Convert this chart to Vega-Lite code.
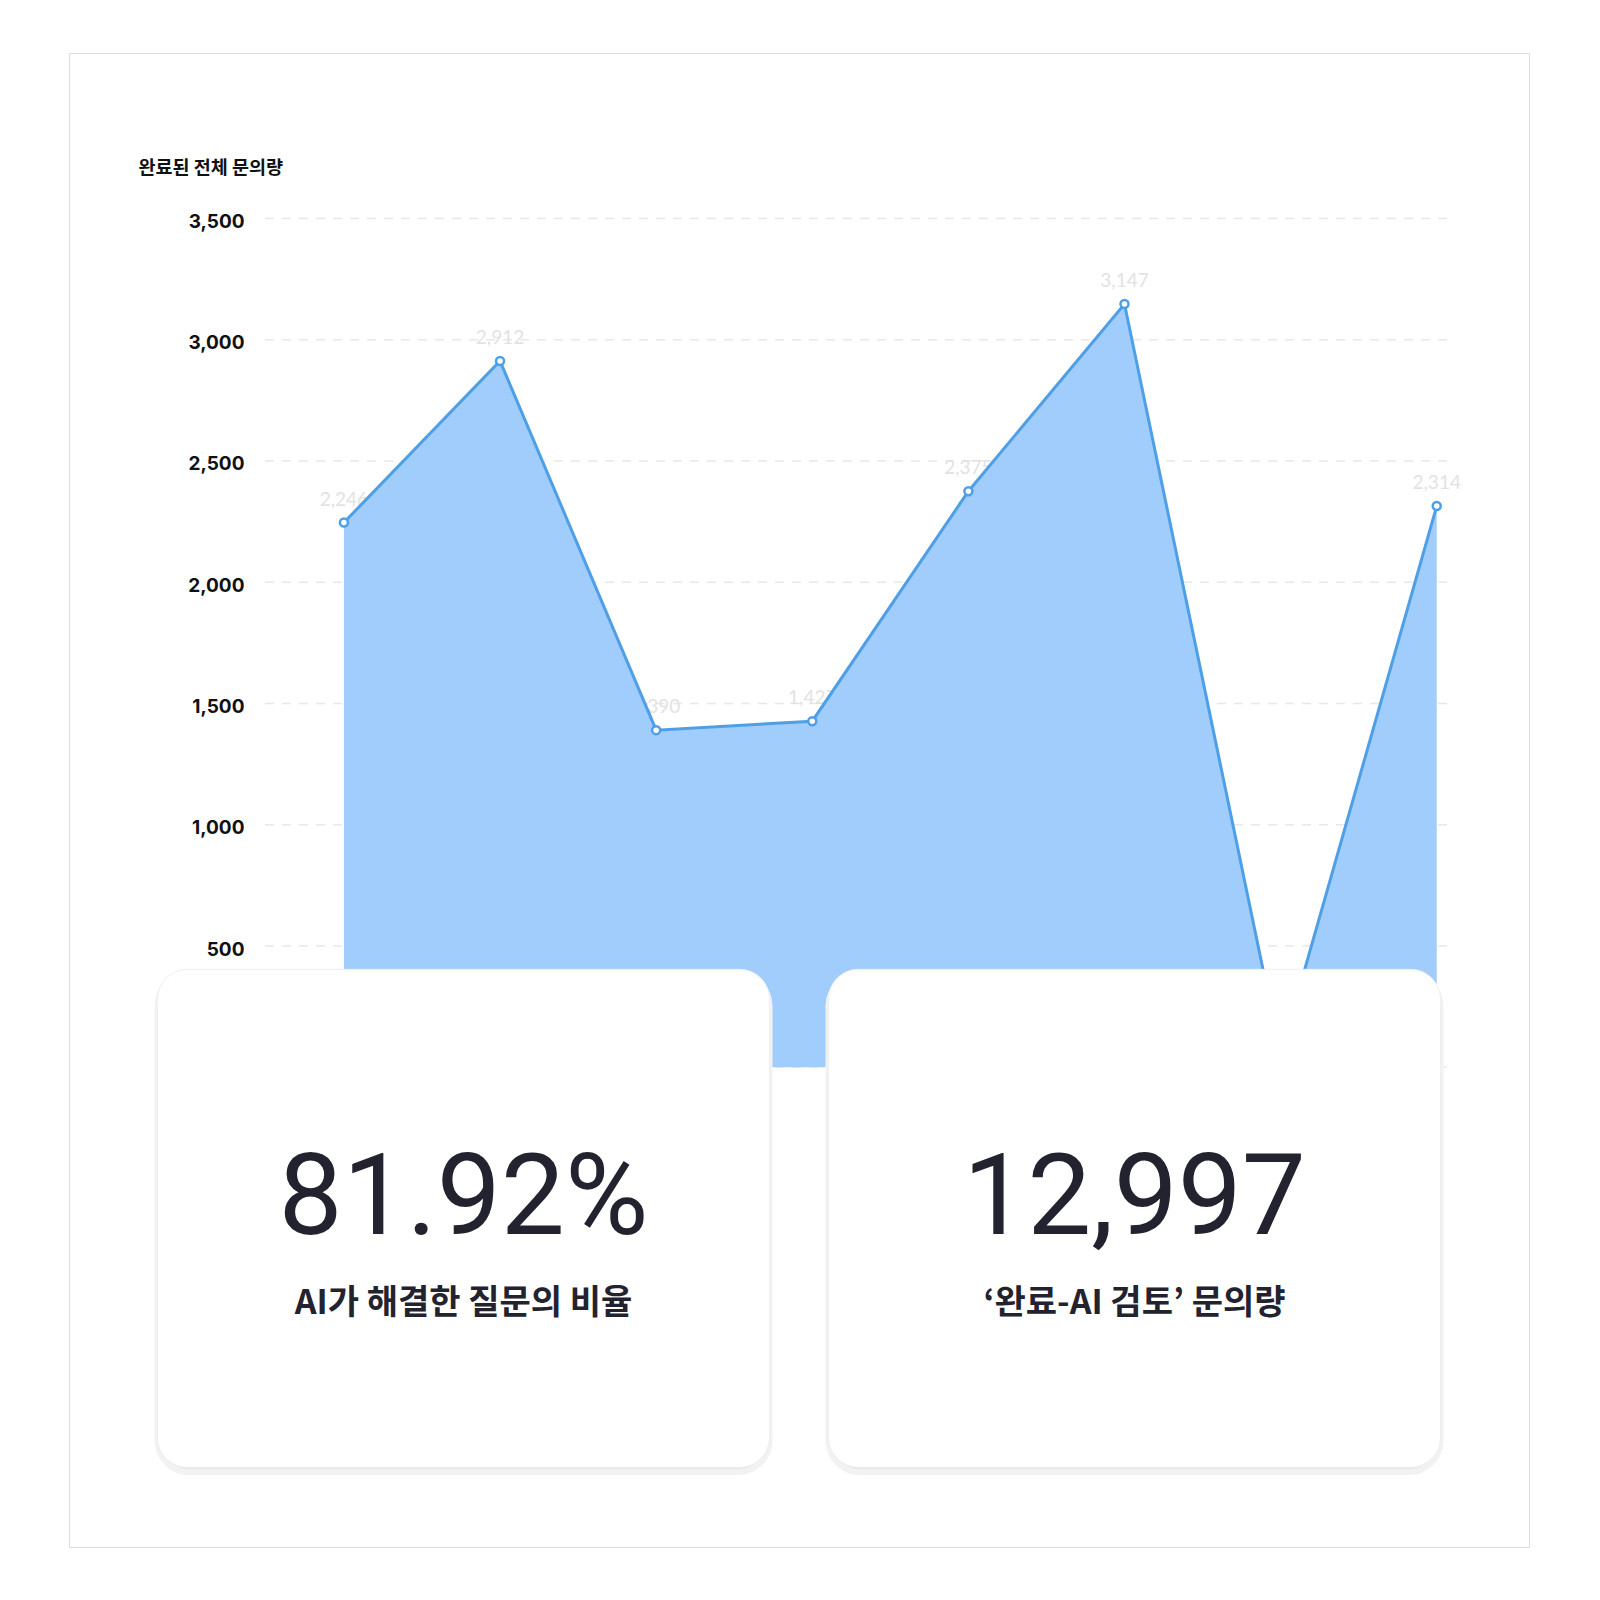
{
  "$schema": "https://vega.github.io/schema/vega-lite/v6.json",
  "width": 1600,
  "height": 1600,
  "autosize": {"type": "fit", "contains": "padding"},
  "padding": {"left": 69, "top": 53, "right": 71, "bottom": 53},
  "background": "#ffffff",
  "layer": [
    {
      "data": {
        "values": [
          {"seq": 1, "count": 2246},
          {"seq": 2, "count": 2912},
          {"seq": 3, "count": 1390},
          {"seq": 4, "count": 1427},
          {"seq": 5, "count": 2375},
          {"seq": 6, "count": 3147},
          {"seq": 7, "count": 55},
          {"seq": 8, "count": 2314}
        ]
      },
      "layer": [
        {
          "data": {"values": [
            {"tick": 0}, {"tick": 500}, {"tick": 1000}, {"tick": 1500},
            {"tick": 2000}, {"tick": 2500}, {"tick": 3000}, {"tick": 3500}
          ]},
          "mark": {"type": "rule", "color": "#e8e8eb", "strokeWidth": 1.5, "strokeDash": [9, 8]},
          "encoding": {
            "y": {"field": "tick", "type": "quantitative"},
            "x": {"datum": 0.4945, "type": "quantitative", "axis": null},
            "x2": {"datum": 8.079}
          }
        },
        {
          "mark": {"type": "text", "font": "Lato", "fontSize": 19, "color": "#e2e2e4", "dy": -23, "baseline": "middle"},
          "encoding": {
            "x": {"field": "seq", "type": "quantitative", "axis": null},
            "y": {"field": "count", "type": "quantitative"},
            "text": {"field": "count", "type": "quantitative", "format": ","}
          }
        },
        {
          "mark": {"type": "area", "color": "#a0cdfb"},
          "encoding": {
            "x": {"field": "seq", "type": "quantitative", "axis": null,
                  "scale": {"domain": [-0.761, 8.591], "nice": false}},
            "y": {"field": "count", "type": "quantitative",
                  "scale": {"domain": [-1978, 4182], "nice": false},
                  "axis": {
                    "values": [0, 500, 1000, 1500, 2000, 2500, 3000, 3500],
                    "format": ",.0f",
                    "offset": -175,
                    "domain": false, "ticks": false, "grid": false,
                    "labelPadding": 0, "labelOffset": 3,
                    "labelFont": "Inter", "labelFontWeight": 700, "labelFontSize": 19, "labelColor": "#111111",
                    "title": "완료된 전체 문의량",
                    "titleAngle": 0, "titleAlign": "left", "titleBaseline": "middle",
                    "titleX": -106, "titleY": 114,
                    "titleFont": "Noto Sans CJK KR", "titleFontWeight": 700, "titleFontSize": 18.5, "titleColor": "#111111"
                  }}
          }
        },
        {
          "mark": {"type": "line", "color": "#4f9fe6", "strokeWidth": 3},
          "encoding": {
            "x": {"field": "seq", "type": "quantitative", "axis": null},
            "y": {"field": "count", "type": "quantitative"}
          }
        },
        {
          "mark": {"type": "point", "shape": "circle", "filled": true, "fill": "#ffffff", "stroke": "#4f9fe6", "strokeWidth": 2.5, "size": 64, "opacity": 1},
          "encoding": {
            "x": {"field": "seq", "type": "quantitative", "axis": null},
            "y": {"field": "count", "type": "quantitative"}
          }
        }
      ]
    },
    {
      "data": {
        "values": [
          {"card": "ai_ratio", "panel": "summary", "value": "81.92%", "label": "AI가 해결한 질문의 비율"},
          {"card": "ai_review", "panel": "summary", "value": "12,997", "label": "‘완료-AI 검토’ 문의량"}
        ]
      },
      "encoding": {
        "x": {"field": "card", "type": "nominal", "axis": null,
              "scale": {"type": "band", "domain": ["ai_ratio", "ai_review"], "paddingInner": 0.0879, "paddingOuter": 0.1319}},
        "y": {"field": "panel", "type": "nominal", "axis": null,
              "scale": {"type": "band", "domain": ["summary"], "paddingInner": 0, "paddingOuter": 1.7774, "align": 0.92}}
      },
      "layer": [
        {
          "mark": {"type": "rect", "fill": "#e6e6e6", "stroke": "#f2f2f2", "strokeWidth": 6, "cornerRadius": 32, "yOffset": 5},
          "encoding": {}
        },
        {
          "mark": {"type": "rect", "fill": "#ffffff", "stroke": "#efefef", "strokeWidth": 1, "cornerRadius": 30},
          "encoding": {}
        },
        {
          "mark": {"type": "text", "font": "Roboto", "fontWeight": 400, "fontSize": 114, "color": "#23232f", "baseline": "alphabetic", "align": "center", "dy": 16},
          "encoding": {
            "x": {"field": "card", "type": "nominal", "bandPosition": 0.5, "axis": null},
            "y": {"field": "panel", "type": "nominal", "bandPosition": 0.5, "axis": null},
            "text": {"field": "value"}
          }
        },
        {
          "mark": {"type": "text", "font": "Noto Sans CJK KR", "fontWeight": 700, "fontSize": 34, "color": "#23232f", "baseline": "alphabetic", "align": "center", "dy": 96},
          "encoding": {
            "x": {"field": "card", "type": "nominal", "bandPosition": 0.5, "axis": null},
            "y": {"field": "panel", "type": "nominal", "bandPosition": 0.5, "axis": null},
            "text": {"field": "label"}
          }
        }
      ]
    }
  ],
  "resolve": {"scale": {"x": "independent", "y": "independent"}}
}
